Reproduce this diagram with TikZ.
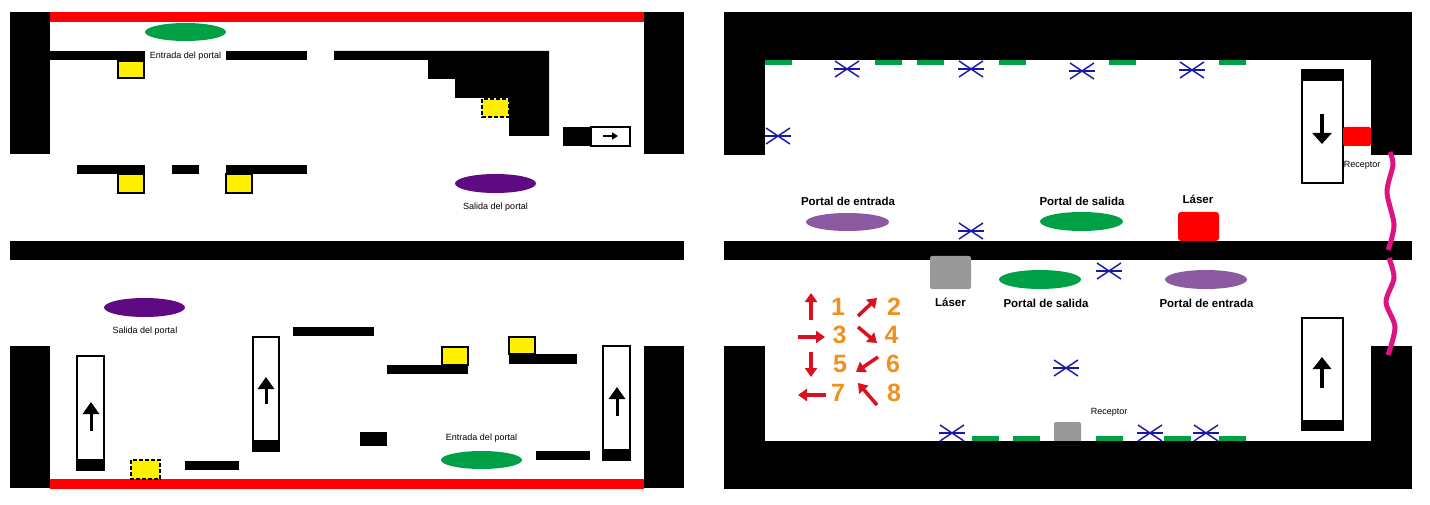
\documentclass[tikz,border=0pt]{standalone}
\usepackage{fontspec}
\setmainfont{Liberation Sans}
\usetikzlibrary{arrows.meta}
\definecolor{boxyellow}{RGB}{255,240,0}
\definecolor{portalgreen}{RGB}{0,160,70}
\definecolor{portalpurple}{RGB}{95,10,130}
\definecolor{portallilac}{RGB}{140,90,160}
\definecolor{blastblue}{RGB}{25,25,165}
\definecolor{keyred}{RGB}{220,15,30}
\definecolor{keyorange}{RGB}{240,145,30}
\definecolor{cable}{RGB}{220,20,130}
\tikzset{
  wall/.style={fill=black},
  crate/.style={draw=black, line width=1.5pt, fill=boxyellow},
  ghostcrate/.style={crate, dash pattern=on 4pt off 2pt},
  lift/.style={draw=black, line width=1.5pt, fill=white},
  pad/.style={fill=portalgreen},
  liftarrow/.style={line width=3pt, -{Triangle[width=16pt,length=12pt]}},
  keyarrow/.style={keyred, line width=3.5pt, -{Triangle[width=12pt,length=9pt]}},
  small/.style={font=\fontsize{9}{10}\selectfont, inner sep=0pt},
  big/.style={font=\fontsize{11.5}{13}\bfseries\selectfont, inner sep=0pt},
  digit/.style={font=\fontsize{25}{26}\bfseries\selectfont, text=keyorange, inner sep=0pt},
  blast/.pic={
    \draw[blastblue, line width=1.5pt] (-13,0)--(13,0);
    \draw[blastblue, line width=1.5pt] (-12,-8)--(12,8);
    \draw[blastblue, line width=1.5pt] (-12,8)--(12,-8);
  }
}
\begin{document}
\begin{tikzpicture}[x=1pt, y=-1pt]
  \useasboundingbox[fill=white] (0,0) rectangle (1430,505);

  % left, upper room
  \fill[wall] (10,12) rectangle (50,154);
  \fill[wall] (644,12) rectangle (684,154);
  \fill[red] (50,12) rectangle (644,22);
  \fill[portalgreen] (185.5,32) ellipse [x radius=40.5, y radius=9];
  \fill[wall] (50,51) rectangle (145,60);
  \fill[wall] (226,51) rectangle (307,60);
  \fill[wall] (334,51) -- (549,51) -- (549,136) -- (509,136) -- (509,98)
    -- (455,98) -- (455,79) -- (428,79) -- (428,60) -- (334,60) -- cycle;
  \draw[crate] (118,61) rectangle (144,78);
  \draw[ghostcrate] (482,99) rectangle (509,117);
  \fill[wall] (563,127) rectangle (591,146);
  \draw[lift] (591,127) rectangle (630,146);
  \draw[line width=2pt, -{Triangle[width=7pt,length=6pt]}] (603,136) -- (618,136);
  \fill[wall] (77,165) rectangle (145,174);
  \draw[crate] (118,174) rectangle (144,193);
  \fill[wall] (172,165) rectangle (199,174);
  \fill[wall] (226,165) rectangle (307,174);
  \draw[crate] (226,174) rectangle (252,193);
  \fill[portalpurple] (495.5,183.5) ellipse [x radius=40.5, y radius=9.5];
  \node[small] (entrada1) at (185.5,56) {Entrada del portal};
  \node[small] (salida1) at (495.5,207) {Salida del portal};
  \fill[wall] (10,241) rectangle (684,260);

  % left, lower room
  \fill[portalpurple] (144.5,307.5) ellipse [x radius=40.5, y radius=9.5];
  \node[small] (salida2) at (145,331) {Salida del portal};
  \fill[wall] (10,346) rectangle (50,488);
  \fill[wall] (644,346) rectangle (684,488);
  \fill[red] (50,479) rectangle (644,489);
  \draw[lift] (77,356) rectangle (104,470);
  \fill[wall] (77,459) rectangle (104,470);
  \draw[liftarrow] (91,431) -- (91,402);
  \draw[ghostcrate] (131,460) rectangle (160,479);
  \fill[wall] (185,461) rectangle (239,470);
  \draw[lift] (253,337) rectangle (279,451);
  \fill[wall] (253,440) rectangle (279,451);
  \draw[liftarrow] (266,404) -- (266,377);
  \fill[wall] (293,327) rectangle (374,336);
  \fill[wall] (387,365) rectangle (468,374);
  \draw[crate] (442,347) rectangle (468,365);
  \draw[crate] (509,337) rectangle (535,354);
  \fill[wall] (509,354) rectangle (577,364);
  \fill[wall] (360,432) rectangle (387,446);
  \node[small] (entrada2) at (481.5,438) {Entrada del portal};
  \fill[portalgreen] (481.5,460) ellipse [x radius=40.5, y radius=9];
  \fill[wall] (536,451) rectangle (590,460);
  \draw[lift] (603,346) rectangle (630,460);
  \fill[wall] (603,449) rectangle (630,460);
  \draw[liftarrow] (617,416) -- (617,387);

  % right, upper room
  \fill[wall] (724,12) rectangle (1412,60);
  \fill[wall] (724,12) rectangle (765,155);
  \fill[wall] (1371,12) rectangle (1412,155);
  \foreach \x in {765,875,917,999,1109,1219}
    \fill[pad] (\x,60) rectangle ++(27,5);
  \foreach \p in {(847,69),(971,69),(1082,71),(1192,70),(778,136),(971,231)}
    \pic at \p {blast};
  \draw[lift] (1302,70) rectangle (1343,183);
  \fill[wall] (1302,70) rectangle (1343,81);
  \draw[line width=3.5pt, -{Triangle[width=19pt,length=11pt]}] (1322,114) -- (1322,144);
  \fill[red, rounded corners=2pt] (1343,127) rectangle (1371,146);
  \node[small] (receptorA) at (1362,165) {Receptor};
  \node[big] (entradaA) at (848,201) {Portal de entrada};
  \fill[portallilac] (847.5,222) ellipse [x radius=41.5, y radius=9];
  \node[big] (salidaA) at (1082,201) {Portal de salida};
  \fill[portalgreen] (1081.5,221.5) ellipse [x radius=41.5, y radius=9.5];
  \node[big] (laserA) at (1198,199) {Láser};
  \fill[red, rounded corners=3pt] (1178,212) rectangle (1219,241);
  \fill[wall] (724,241) rectangle (1412,260);

  % right, lower room
  \fill[gray!80, rounded corners=2pt] (930,256) rectangle (971,289);
  \node[big] (laserB) at (950.5,302) {Láser};
  \fill[portalgreen] (1040,279.5) ellipse [x radius=41, y radius=9.5];
  \node[big] (salidaB) at (1046,303) {Portal de salida};
  \pic at (1109,271) {blast};
  \fill[portallilac] (1206,279.5) ellipse [x radius=41, y radius=9.5];
  \node[big] (entradaB) at (1206.5,303) {Portal de entrada};
  \node[digit] (n1) at (838,307) {1};
  \node[digit] (n2) at (894,307) {2};
  \node[digit] (n3) at (839.5,335) {3};
  \node[digit] (n4) at (891.5,335) {4};
  \node[digit] (n5) at (840,364) {5};
  \node[digit] (n6) at (893,364) {6};
  \node[digit] (n7) at (838,393) {7};
  \node[digit] (n8) at (894,393) {8};
  \draw[keyarrow] (811,320) -- (811,293);
  \draw[keyarrow] (858,316) -- (877,298);
  \draw[keyarrow] (798,337) -- (825,337);
  \draw[keyarrow] (858,327) -- (877,343);
  \draw[keyarrow] (811,352) -- (811,377);
  \draw[keyarrow] (878,357) -- (856,372);
  \draw[keyarrow] (826,395) -- (798,395);
  \draw[keyarrow] (877,405) -- (858,383);
  \fill[wall] (724,346) rectangle (765,489);
  \fill[wall] (724,441) rectangle (1412,489);
  \fill[wall] (1371,346) rectangle (1412,489);
  \pic at (1066,368) {blast};
  \foreach \x in {972,1013,1096,1164,1219}
    \fill[pad] (\x,436) rectangle ++(27,5);
  \foreach \x in {952,1150,1206}
    \pic at (\x,433) {blast};
  \fill[gray!80, rounded corners=2pt] (1054,422) rectangle (1081,445);
  \fill[wall] (1040,441) rectangle (1090,445);
  \node[small] (receptorB) at (1109,412) {Receptor};
  \draw[lift] (1302,318) rectangle (1343,430);
  \fill[wall] (1302,420) rectangle (1343,430);
  \draw[line width=3.5pt, -{Triangle[width=18pt,length=12pt]}] (1322,388) -- (1322,357);

  % cable
  \draw[cable, line width=5pt] plot[smooth] coordinates
    {(1390,152) (1393,165) (1387,192) (1394,225) (1388,250)};
  \draw[cable, line width=5pt] plot[smooth] coordinates
    {(1389,258) (1394,278) (1386,302) (1395,327) (1388,355)};
\end{tikzpicture}
\end{document}
